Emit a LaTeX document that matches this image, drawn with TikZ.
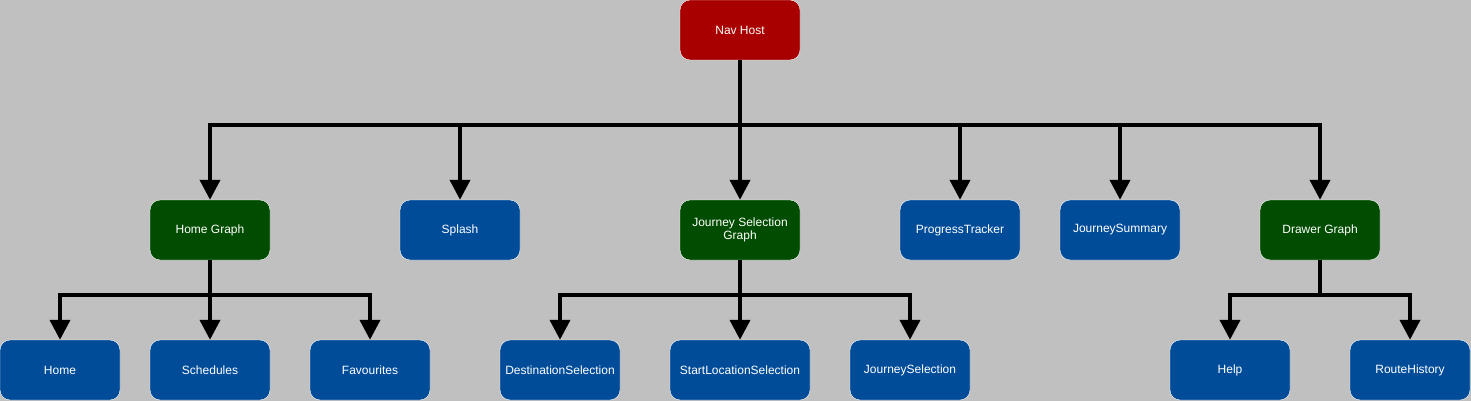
\documentclass[tikz,border=0pt]{standalone}
\usepackage{fontspec}
\setmainfont{Liberation Sans}
\usepackage{xcolor}
\usepackage{tikz}
\usetikzlibrary{arrows.meta, calc}

\definecolor{hostred}{HTML}{A80000}
\definecolor{graphgreen}{HTML}{004C00}
\definecolor{screenblue}{HTML}{004C99}
\definecolor{canvasgray}{HTML}{C0C0C0}

\begin{document}
\begin{tikzpicture}[x=1pt, y=-1pt,
    host/.style={rectangle, draw=white, fill=hostred, thin, minimum width=120pt, minimum height=60pt, inner sep=0pt, text=white, align=center, rounded corners=10pt, font=\fontsize{12}{13}\selectfont},
    graph/.style={host, fill=graphgreen},
    screen/.style={host, fill=screenblue},
    link/.style={draw, -{Triangle[width=20pt, length=20pt]}, line width=4pt}]

    \useasboundingbox [fill=canvasgray] (0,0) rectangle (1471,401);

    \node [host] (nav) at (740,30) {Nav Host};

    \node [graph] (homegraph) at (210,230) {Home Graph};
    \node [screen] (splash) at (460,230) {Splash};
    \node [graph] (journeygraph) at (740,230) {Journey Selection\\Graph};
    \node [screen] (progress) at (960,230) {ProgressTracker};
    \node [screen] (summary) at (1120,230) {JourneySummary};
    \node [graph] (drawergraph) at (1320,230) {Drawer Graph};

    \node [screen] (home) at (60,370) {Home};
    \node [screen] (schedules) at (210,370) {Schedules};
    \node [screen] (favourites) at (370,370) {Favourites};
    \node [screen] (destination) at (560,370) {DestinationSelection};
    \node [screen, minimum width=140pt] (startloc) at (740,370) {StartLocationSelection};
    \node [screen] (journeysel) at (910,370) {JourneySelection};
    \node [screen] (help) at (1230,370) {Help};
    \node [screen] (history) at (1410,370) {RouteHistory};

    \foreach \child in {homegraph, splash, journeygraph, progress, summary, drawergraph}
        \path [link] (nav.south) -- ++(0,65) -| (\child.north);

    \foreach \child in {home, schedules, favourites}
        \path [link] (homegraph.south) -- ++(0,35) -| (\child.north);
    \foreach \child in {destination, startloc, journeysel}
        \path [link] (journeygraph.south) -- ++(0,35) -| (\child.north);
    \foreach \child in {help, history}
        \path [link] (drawergraph.south) -- ++(0,35) -| (\child.north);
\end{tikzpicture}
\end{document}
